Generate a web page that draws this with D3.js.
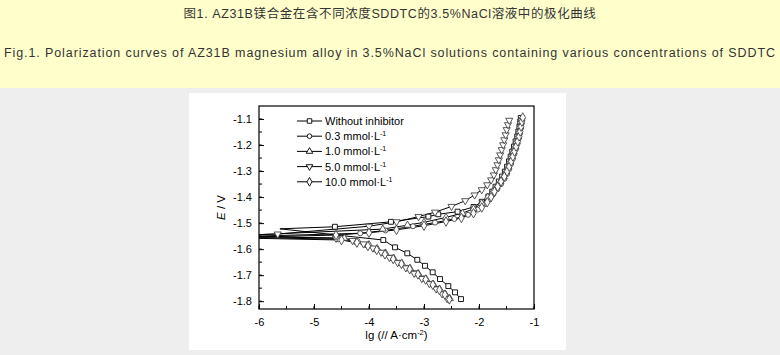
<!DOCTYPE html>
<html>
<head>
<meta charset="utf-8">
<script src="https://cdn.jsdelivr.net/npm/d3@7"></script>
<style>
  body { margin: 0; background: #eeeeee; }
  svg { display: block; }
</style>
</head>
<body>
<svg id="chart" width="780" height="355"></svg>
<script>
// Captions
const titleCn = '图1. AZ31B镁合金在含不同浓度SDDTC的3.5%NaCl溶液中的极化曲线';
const titleEn = 'Fig.1. Polarization curves of AZ31B magnesium alloy in 3.5%NaCl solutions containing various concentrations of SDDTC';

// Axis ticks
const xTicks = [-6, -5, -4, -3, -2, -1];
const yTicks = [-1.8, -1.7, -1.6, -1.5, -1.4, -1.3, -1.2, -1.1];

// Legend labels
const seriesLabels = ['Without inhibitor', '0.3 mmol·L', '1.0 mmol·L', '5.0 mmol·L', '10.0 mmol·L'];

// [lg I, E] points, each curve: cathodic end -> corrosion potential -> anodic end
const blank = [
  [-2.327, -1.792], [-2.436, -1.766], [-2.558, -1.742], [-2.709, -1.715], [-2.842, -1.689],
  [-2.982, -1.664], [-3.122, -1.641], [-3.304, -1.616], [-3.527, -1.593], [-3.74, -1.565],
  [-5.62, -1.522],
  [-4.62, -1.514], [-3.6, -1.495], [-2.92, -1.475], [-2.74, -1.466], [-2.39, -1.456],
  [-2.1, -1.438], [-1.95, -1.418], [-1.83, -1.398], [-1.76, -1.379], [-1.70, -1.36],
  [-1.64, -1.34], [-1.58, -1.321], [-1.53, -1.302], [-1.49, -1.283], [-1.455, -1.263],
  [-1.425, -1.244], [-1.395, -1.225], [-1.365, -1.206], [-1.335, -1.186], [-1.305, -1.167],
  [-1.285, -1.148], [-1.265, -1.129], [-1.25, -1.11], [-1.24, -1.096]
];

const c03 = [
  [-2.56, -1.786], [-2.64, -1.77], [-2.74, -1.752], [-2.86, -1.733], [-3.0, -1.712],
  [-3.15, -1.692], [-3.3, -1.672], [-3.45, -1.652], [-3.6, -1.633], [-3.75, -1.615],
  [-3.9, -1.6], [-4.05, -1.585], [-4.25, -1.572], [-4.55, -1.562],
  [-6.6, -1.553],
  [-4.16, -1.539], [-3.7, -1.528], [-3.2, -1.512],
  [-2.8, -1.498], [-2.45, -1.484], [-2.2, -1.468], [-2.02, -1.448], [-1.9, -1.428],
  [-1.81, -1.408], [-1.74, -1.389], [-1.67, -1.37], [-1.6, -1.35], [-1.54, -1.33],
  [-1.49, -1.311], [-1.45, -1.292], [-1.415, -1.272], [-1.385, -1.253], [-1.355, -1.234],
  [-1.325, -1.214], [-1.3, -1.195], [-1.275, -1.175], [-1.255, -1.156], [-1.24, -1.137],
  [-1.225, -1.118], [-1.212, -1.1]
];

const c10 = [
  [-2.53, -1.79], [-2.61, -1.773], [-2.71, -1.755], [-2.83, -1.735], [-2.96, -1.715],
  [-3.1, -1.695], [-3.25, -1.675], [-3.4, -1.655], [-3.55, -1.635], [-3.7, -1.615],
  [-3.85, -1.598], [-4.0, -1.583], [-4.2, -1.57], [-4.45, -1.558],
  [-6.6, -1.55],
  [-3.75, -1.523], [-3.3, -1.508], [-3.0, -1.497],
  [-2.6, -1.478], [-2.3, -1.462], [-2.1, -1.445], [-1.95, -1.424], [-1.84, -1.4],
  [-1.75, -1.379], [-1.68, -1.36], [-1.61, -1.34], [-1.55, -1.321], [-1.51, -1.302],
  [-1.47, -1.283], [-1.435, -1.263], [-1.405, -1.244], [-1.375, -1.225], [-1.345, -1.206],
  [-1.315, -1.186], [-1.29, -1.167], [-1.27, -1.148], [-1.255, -1.129], [-1.24, -1.11],
  [-1.228, -1.1]
];

const c50 = [
  [-2.58, -1.79], [-2.67, -1.772], [-2.78, -1.753], [-2.9, -1.733], [-3.04, -1.713],
  [-3.18, -1.693], [-3.33, -1.672], [-3.48, -1.652], [-3.63, -1.632], [-3.78, -1.612],
  [-3.93, -1.596], [-4.1, -1.58], [-4.3, -1.567], [-4.6, -1.558],
  [-6.6, -1.548],
  [-5.66, -1.542], [-4.0, -1.512], [-3.5, -1.495],
  [-3.1, -1.475], [-2.8, -1.458], [-2.5, -1.436], [-2.25, -1.414], [-2.08, -1.392],
  [-1.95, -1.372], [-1.85, -1.353], [-1.78, -1.334], [-1.73, -1.315], [-1.695, -1.295],
  [-1.665, -1.276], [-1.64, -1.257], [-1.615, -1.238], [-1.587, -1.218], [-1.56, -1.199],
  [-1.54, -1.18], [-1.515, -1.161], [-1.497, -1.141], [-1.472, -1.122], [-1.45, -1.105]
];

const c100 = [
  [-2.54, -1.793], [-2.62, -1.775], [-2.72, -1.757], [-2.84, -1.737], [-2.97, -1.717],
  [-3.11, -1.697], [-3.26, -1.677], [-3.41, -1.657], [-3.56, -1.638], [-3.71, -1.62],
  [-3.86, -1.603], [-4.02, -1.588], [-4.22, -1.575], [-4.5, -1.565],
  [-6.6, -1.556],
  [-4.6, -1.546], [-4.0, -1.537], [-3.5, -1.526],
  [-3.0, -1.51], [-2.6, -1.494], [-2.32, -1.48], [-2.1, -1.462], [-1.95, -1.44],
  [-1.85, -1.42], [-1.78, -1.40], [-1.72, -1.379], [-1.66, -1.36],
  [-1.6, -1.34], [-1.54, -1.321], [-1.49, -1.302], [-1.45, -1.283], [-1.415, -1.263],
  [-1.385, -1.244], [-1.355, -1.225], [-1.325, -1.206], [-1.295, -1.186], [-1.27, -1.167],
  [-1.25, -1.148], [-1.235, -1.129], [-1.22, -1.11], [-1.205, -1.094]
];

const curves = [blank, c03, c10, c50, c100];
const symbols = [d3.symbolSquare, d3.symbolCircle, d3.symbolTriangle, d3.symbolTriangle, d3.symbolDiamond];
const symbolSizes = [24, 20, 22, 22, 26];
const symbolRotate = [0, 0, 0, 180, 0];

const svg = d3.select('#chart');
const font = '"Liberation Sans", Arial, "Noto Sans CJK SC", sans-serif';
const narrow = '"Liberation Sans Narrow", "Arial Narrow", "Liberation Sans", "Noto Sans CJK SC", sans-serif';

// header band
svg.append('rect').attr('x', 0).attr('y', 0).attr('width', 780).attr('height', 88).attr('fill', '#ffffcc');
svg.append('text')
  .attr('x', 390).attr('y', 18).attr('text-anchor', 'middle')
  .style('font-family', narrow).style('font-size', '12.5px').style('letter-spacing', '0.6px').attr('fill', '#333')
  .text(titleCn);
svg.append('text')
  .attr('x', 4).attr('y', 57)
  .attr('textLength', 771).attr('lengthAdjust', 'spacing')
  .style('font-family', narrow).style('font-size', '12.5px').attr('fill', '#333')
  .text(titleEn);

// white figure panel
svg.append('rect').attr('x', 189).attr('y', 93).attr('width', 377).attr('height', 257).attr('fill', '#fff');

const pLeft = 259, pRight = 534, pTop = 106, pBottom = 309;
const x = d3.scaleLinear().domain([-6, -1]).range([pLeft, pRight]);
const y = d3.scaleLinear().domain([-1.83, -1.05]).range([pBottom, pTop]);

svg.append('clipPath').attr('id', 'plot-clip')
  .append('rect').attr('x', pLeft).attr('y', pTop).attr('width', pRight - pLeft).attr('height', pBottom - pTop);

// minor ticks
const xMinor = d3.range(-6, -0.99, 0.5);
const yMinor = d3.range(-1.8, -1.09, 0.05);
svg.append('g').selectAll('line').data(xMinor).enter().append('line')
  .attr('x1', d => x(d)).attr('x2', d => x(d)).attr('y1', pBottom).attr('y2', pBottom - 3)
  .attr('stroke', '#000');
svg.append('g').selectAll('line').data(yMinor).enter().append('line')
  .attr('x1', pLeft).attr('x2', pLeft + 3).attr('y1', d => y(d)).attr('y2', d => y(d))
  .attr('stroke', '#000');

// axes, ticks pointing inwards
const xAxis = svg.append('g').attr('transform', `translate(0,${pBottom})`)
  .call(d3.axisBottom(x).tickValues(xTicks).tickSizeInner(-5).tickSizeOuter(0).tickPadding(9));
const yAxis = svg.append('g').attr('transform', `translate(${pLeft},0)`)
  .call(d3.axisLeft(y).tickValues(yTicks).tickSizeInner(-5).tickSizeOuter(0).tickPadding(7));
[xAxis, yAxis].forEach(a => {
  a.select('.domain').remove();
  a.selectAll('text').style('font-family', font).style('font-size', '11px').attr('fill', '#000')
    .text(d => a === xAxis ? String(d) : d.toFixed(1));
  a.selectAll('line').attr('stroke', '#000');
});

// curves
const line = d3.line().x(d => x(d[0])).y(d => y(d[1]));
const plot = svg.append('g').attr('clip-path', 'url(#plot-clip)');

curves.forEach((pts, i) => {
  plot.append('path').datum(pts)
    .attr('d', line).attr('fill', 'none').attr('stroke', '#000').attr('stroke-width', 1);
});
curves.forEach((pts, i) => {
  const cusp = d3.minIndex(pts, d => d[0]);
  plot.append('g').selectAll('path')
    .data(pts.filter((d, j) => j !== cusp))
    .enter().append('path')
    .attr('d', d3.symbol().type(symbols[i]).size(symbolSizes[i]))
    .attr('transform', d => `translate(${x(d[0])},${y(d[1])}) rotate(${symbolRotate[i]})`)
    .attr('fill', '#fff').attr('stroke', i === 0 ? '#000' : '#444').attr('stroke-width', 0.9);
});

// frame
svg.append('rect').attr('x', pLeft).attr('y', pTop).attr('width', pRight - pLeft).attr('height', pBottom - pTop)
  .attr('fill', 'none').attr('stroke', '#000').attr('stroke-width', 1.2);

// legend
const legend = svg.append('g').attr('transform', 'translate(297,121)');
const items = legend.selectAll('g').data(seriesLabels).enter().append('g')
  .attr('transform', (d, i) => `translate(0,${i * 15.2})`);
items.append('line').attr('x1', 0).attr('x2', 25).attr('y1', 0).attr('y2', 0).attr('stroke', '#000');
items.append('path')
  .attr('d', (d, i) => d3.symbol().type(symbols[i]).size(symbolSizes[i] * 0.85)())
  .attr('transform', (d, i) => `translate(12.5,0) rotate(${symbolRotate[i]})`)
  .attr('fill', '#fff').attr('stroke', '#000').attr('stroke-width', 0.9);
const labels = items.append('text').attr('x', 28).attr('y', 4)
  .style('font-family', font).style('font-size', '11px').attr('fill', '#000')
  .text(d => d);
labels.filter((d, i) => i > 0).append('tspan')
  .attr('dy', -4).style('font-size', '7px').text('-1');

// axis titles
const xTitle = svg.append('text').attr('x', (pLeft + pRight) / 2).attr('y', 339)
  .attr('text-anchor', 'middle')
  .style('font-family', font).style('font-size', '11.5px').attr('fill', '#000');
xTitle.append('tspan').text('lg (// A·cm');
xTitle.append('tspan').attr('dy', -4).style('font-size', '7.5px').text('-2');
xTitle.append('tspan').attr('dy', 4).text(')');

const yTitle = svg.append('text')
  .attr('transform', `translate(225,${(pTop + pBottom) / 2}) rotate(-90)`)
  .attr('text-anchor', 'middle')
  .style('font-family', font).style('font-size', '11.5px').attr('fill', '#000');
yTitle.append('tspan').style('font-style', 'italic').text('E');
yTitle.append('tspan').text(' / V');
</script>
</body>
</html>
